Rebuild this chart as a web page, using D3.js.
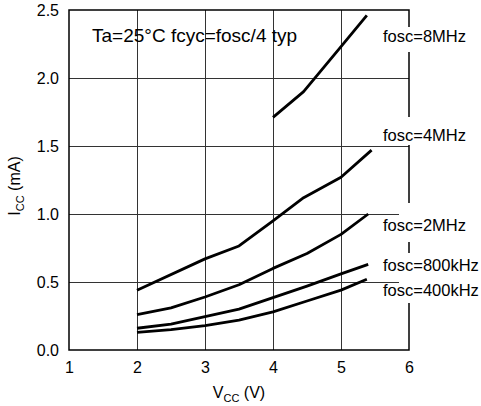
<!DOCTYPE html>
<meta charset="utf-8">
<script src="https://d3js.org/d3.v7.min.js"></script>
<style>
  body { margin: 0; background: #fff; }
  text { font-family: "Liberation Sans", Arial, sans-serif; fill: #000; }
</style>
<div id="chart"></div>
<script>
// supply voltage (V) and supply current (mA) for each oscillator frequency
var vcc8M   = [4, 4.45, 5, 5.38];
var icc8M   = [1.71, 1.9, 2.23, 2.46];
var vcc4M   = [2, 3, 3.5, 4, 4.45, 5, 5.45];
var icc4M   = [0.44, 0.67, 0.765, 0.95, 1.12, 1.27, 1.47];
var vcc2M   = [2, 2.5, 3, 3.5, 4, 4.5, 5, 5.4];
var icc2M   = [0.26, 0.31, 0.39, 0.48, 0.6, 0.71, 0.85, 1.0];
var vcc800k = [2, 2.5, 3, 3.5, 4, 4.5, 5, 5.4];
var icc800k = [0.16, 0.19, 0.245, 0.3, 0.385, 0.47, 0.56, 0.63];
var vcc400k = [2, 2.5, 3, 3.5, 4, 4.5, 5, 5.38];
var icc400k = [0.13, 0.15, 0.18, 0.22, 0.28, 0.36, 0.44, 0.52];

var seriesNames = ["fosc=8MHz", "fosc=4MHz", "fosc=2MHz", "fosc=800kHz", "fosc=400kHz"];
var xTicks = [1, 2, 3, 4, 5, 6];
var yTicks = [0, 0.5, 1.0, 1.5, 2.0, 2.5];

var series = [
  {name: seriesNames[0], v: vcc8M, i: icc8M},
  {name: seriesNames[1], v: vcc4M, i: icc4M},
  {name: seriesNames[2], v: vcc2M, i: icc2M},
  {name: seriesNames[3], v: vcc800k, i: icc800k},
  {name: seriesNames[4], v: vcc400k, i: icc400k}
];

var W = 481, H = 406;
var margin = {top: 10, left: 69, right: 72, bottom: 56};
var width = W - margin.left - margin.right,
    height = H - margin.top - margin.bottom;

var svg = d3.select("#chart").append("svg")
    .attr("width", W)
    .attr("height", H);

var g = svg.append("g")
    .attr("transform", "translate(" + margin.left + "," + margin.top + ")");

var x = d3.scaleLinear().domain([1, 6]).range([0, width]);
var y = d3.scaleLinear().domain([0, 2.5]).range([height, 0]);

// grid lines
g.append("g")
    .selectAll("line.vx")
    .data(xTicks.slice(1, -1))
    .enter().append("line")
    .attr("x1", function(d) { return Math.round(x(d)) + 0.5; })
    .attr("x2", function(d) { return Math.round(x(d)) + 0.5; })
    .attr("y1", 0).attr("y2", height)
    .attr("stroke", "#333").attr("stroke-width", 1);

g.append("g")
    .selectAll("line.hy")
    .data(yTicks.slice(1, -1))
    .enter().append("line")
    .attr("x1", 0).attr("x2", width)
    .attr("y1", function(d) { return Math.round(y(d)) + 0.5; })
    .attr("y2", function(d) { return Math.round(y(d)) + 0.5; })
    .attr("stroke", "#333").attr("stroke-width", 1);

// frame
g.append("rect")
    .attr("x", 0).attr("y", 0)
    .attr("width", width).attr("height", height)
    .attr("fill", "none")
    .attr("stroke", "#000").attr("stroke-width", 1.5);

// axes (labels only)
var xAxis = g.append("g")
    .attr("transform", "translate(0," + height + ")")
    .call(d3.axisBottom(x).tickValues(xTicks).tickSize(0).tickPadding(12).tickFormat(d3.format("d")));
var yAxis = g.append("g")
    .call(d3.axisLeft(y).tickValues(yTicks).tickSize(0).tickPadding(10).tickFormat(d3.format(".1f")));
[xAxis, yAxis].forEach(function(a) {
  a.select(".domain").remove();
  a.selectAll("text").style("font-size", "16px").style("font-family", "'Liberation Sans', Arial, sans-serif");
});

// curves
var line = d3.line()
    .x(function(d) { return x(d[0]); })
    .y(function(d) { return y(d[1]); });

g.append("g")
    .selectAll("path")
    .data(series)
    .enter().append("path")
    .attr("d", function(s) { return line(d3.zip(s.v, s.i)); })
    .attr("fill", "none")
    .attr("stroke", "#000")
    .attr("stroke-width", 2.8)
    .attr("stroke-linejoin", "round");

// label backgrounds break the right edge of the frame
var labelBoxes = [[27, 52], [117, 145], [203, 242], [253, 303]];
svg.append("g")
    .selectAll("rect")
    .data(labelBoxes)
    .enter().append("rect")
    .attr("x", 399).attr("width", W - 399)
    .attr("y", function(d) { return d[0]; })
    .attr("height", function(d) { return d[1] - d[0]; })
    .attr("fill", "#fff");

var labelBaselines = [42, 141, 230.5, 270.5, 295.5];
svg.append("g")
    .selectAll("text")
    .data(series)
    .enter().append("text")
    .attr("x", 383)
    .attr("y", function(d, k) { return labelBaselines[k]; })
    .style("font-size", "16.5px")
    .text(function(d) { return d.name; });

// condition note
svg.append("text")
    .attr("x", 92)
    .attr("y", 42)
    .style("font-size", "19px")
    .text("Ta=25\u00B0C fcyc=fosc/4 typ");

// axis titles
var xt = svg.append("text")
    .attr("x", margin.left + width / 2)
    .attr("y", 398)
    .attr("text-anchor", "middle")
    .style("font-size", "16px");
xt.append("tspan").text("V");
xt.append("tspan").attr("dy", 4).style("font-size", "11px").text("CC");
xt.append("tspan").attr("dy", -4).text(" (V)");

var yt = svg.append("text")
    .attr("transform", "translate(20,186) rotate(-90)")
    .attr("text-anchor", "middle")
    .style("font-size", "16px");
yt.append("tspan").text("I");
yt.append("tspan").attr("dy", 4).style("font-size", "11px").text("CC");
yt.append("tspan").attr("dy", -4).text(" (mA)");
</script>
